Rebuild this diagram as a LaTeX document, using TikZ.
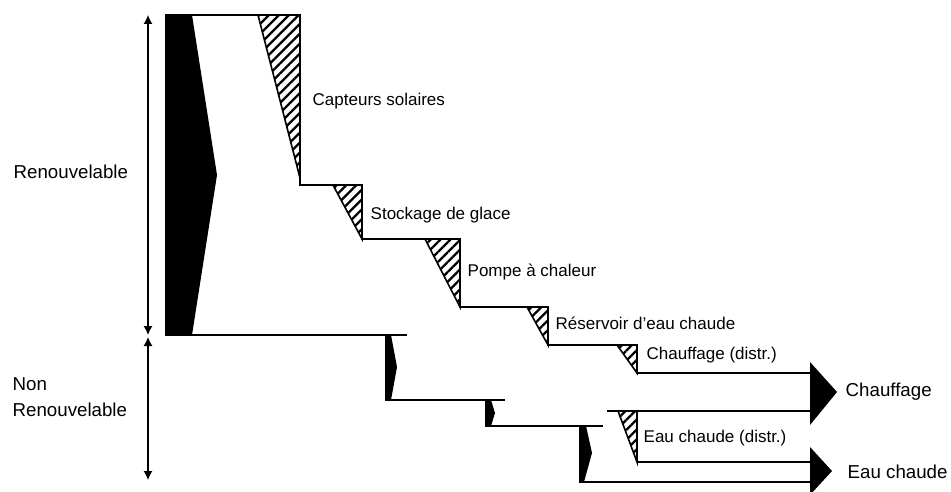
\documentclass[tikz,border=0pt]{standalone}
\usepackage{fontspec}
\setmainfont{Liberation Sans}
\usetikzlibrary{arrows.meta, patterns.meta}

\begin{document}
\begin{tikzpicture}[x=1pt, y=-1pt, line width=1.4pt,
  lbl/.style={anchor=west, inner sep=0pt, font=\fontsize{17}{20}\selectfont},
  biglbl/.style={anchor=west, inner sep=0pt, font=\fontsize{18.7}{22}\selectfont},
  hatched/.style={draw, line width=1.6pt, line join=miter,
    pattern={Lines[angle=45, distance=7pt, line width=2.3pt]}},
  span/.style={{Latex[length=9pt,width=9pt]}-{Latex[length=9pt,width=9pt]}, line width=1.2pt}]
\useasboundingbox (0,0) rectangle (951,492);

% renouvelable
\fill (165,15) -- (192,15) -- (217,175) -- (192,335) -- (165,335) -- cycle;
\draw (165,15) -| (300,185) -| (362,239) -| (460,307) -| (548,345) -| (637,373) -- (810,373);
\draw (165,335) -- (407,335);
\draw[hatched] (258,15) -- (300,15) -- (300,178) -- cycle;
\draw[hatched] (333,185) -- (362,185) -- (362,239) -- cycle;
\draw[hatched] (425,239) -- (460,239) -- (460,307) -- cycle;
\draw[hatched] (527,307) -- (548,307) -- (548,345) -- cycle;
\draw[hatched] (617,345) -- (637,345) -- (637,373) -- cycle;

% non renouvelable
\fill (385,335) -- (391,335) -- (397,367) -- (391,400) -- (385,400) -- cycle;
\draw (385,400) -- (505,400);
\fill (485,400) -- (491,400) -- (495,413) -- (491,426) -- (485,426) -- cycle;
\draw (485,426) -- (603,426);
\fill (579,426) -- (586,426) -- (592,453) -- (584,482) -- (579,482) -- cycle;
\draw (579,482) -- (810,482);
\draw (607,411) -- (810,411);
\draw (637,462) -- (810,462);
\draw[hatched] (618,411) -- (637,411) -- (637,462) -- cycle;

% sorties
\fill (810,362) -- (837,392) -- (810,425) -- cycle;
\fill (810,447) -- (832,471) -- (810,495) -- cycle;

% echelle
\coordinate (rtop) at (148,15);
\coordinate (rbot) at (148,335);
\coordinate (ntop) at (148,337);
\coordinate (nbot) at (148,480);
\draw[span] (rtop) -- (rbot);
\draw[span] (ntop) -- (nbot);

\node[biglbl] (renouv) at (13,172) {Renouvelable};
\node[biglbl] (non) at (12,384) {Non};
\node[biglbl] (nonrenouv) at (12,410) {Renouvelable};
\node[lbl] (capteurs) at (312,101) {Capteurs solaires};
\node[lbl] (glace) at (370,215) {Stockage de glace};
\node[lbl] (pompe) at (467,272) {Pompe à chaleur};
\node[lbl] (reservoir) at (555,323) {Réservoir d’eau chaude};
\node[lbl] (chdistr) at (646,355) {Chauffage (distr.)};
\node[lbl] (ecdistr) at (643,438) {Eau chaude (distr.)};
\node[biglbl] (chauffage) at (845,392) {Chauffage};
\node[biglbl] (eauchaude) at (847,472) {Eau chaude};
\end{tikzpicture}
\end{document}
